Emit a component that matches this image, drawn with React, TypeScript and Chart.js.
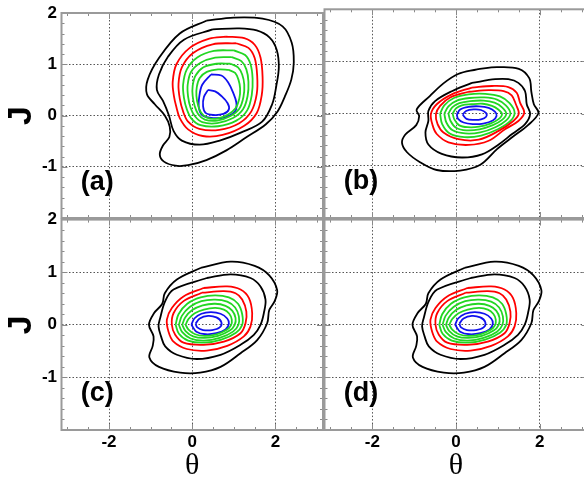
import React, { useEffect, useRef } from 'react';
import { Chart, registerables } from 'chart.js';

Chart.register(...registerables);

type P = [number, number][];

// ---------- axis ticks ----------
const thetaGridTicks = [-2, 0, 2];
const jGridTicks = [-2, -1, 0, 1, 2];
const thetaMinorTicks = [-3, -2.5, -2, -1.5, -1, -0.5, 0, 0.5, 1, 1.5, 2, 2.5, 3];
const jMinorTicks = [-1.8, -1.6, -1.4, -1.2, -1, -0.8, -0.6, -0.4, -0.2, 0, 0.2, 0.4, 0.6, 0.8, 1, 1.2, 1.4, 1.6, 1.8];
const thetaMajorTicks = [-2, 0, 2];
const jMajorTicks = [-1, 0, 1];
const panelLetters = ['(a)', '(b)', '(c)', '(d)'];

// ---------- panel (a) contours [theta, J] ----------
const aBlack1: P = [[0.34, 1.85], [1.0, 1.91], [1.69, 1.89], [2.17, 1.74], [2.39, 1.42], [2.44, 1.04], [2.38, 0.7], [2.22, 0.36], [2.05, 0.08], [1.77, -0.17], [1.29, -0.43], [0.82, -0.68], [0.34, -0.87], [-0.1, -0.97], [-0.4, -0.98], [-0.68, -0.9], [-0.78, -0.76], [-0.7, -0.58], [-0.55, -0.42], [-0.54, -0.22], [-0.66, 0.0], [-0.9, 0.22], [-1.09, 0.42], [-1.07, 0.7], [-0.8, 1.12], [-0.3, 1.6], [0.34, 1.85]];
const aBlack2: P = [[0.49, 1.68], [1.13, 1.7], [1.55, 1.66], [1.86, 1.52], [2.03, 1.28], [2.08, 0.94], [2.02, 0.58], [1.92, 0.22], [1.68, -0.12], [1.18, -0.33], [0.66, -0.49], [0.18, -0.57], [-0.25, -0.49], [-0.45, -0.3], [-0.56, 0.0], [-0.7, 0.28], [-0.85, 0.5], [-0.8, 0.8], [-0.58, 1.15], [-0.2, 1.48], [0.49, 1.68]];
const aRed1: P = [[0.81, 1.54], [1.25, 1.51], [1.5, 1.38], [1.64, 1.13], [1.69, 0.75], [1.67, 0.4], [1.55, 0.05], [1.25, -0.2], [0.73, -0.38], [0.25, -0.4], [-0.1, -0.27], [-0.3, -0.05], [-0.38, 0.16], [-0.44, 0.38], [-0.47, 0.65], [-0.38, 1.0], [-0.06, 1.32], [0.41, 1.5], [0.81, 1.54]];
const aRed2: P = [[1.05, 1.41], [1.35, 1.32], [1.5, 1.12], [1.56, 0.78], [1.55, 0.42], [1.42, 0.08], [1.13, -0.15], [0.65, -0.28], [0.17, -0.26], [-0.1, -0.12], [-0.22, 0.08], [-0.3, 0.33], [-0.33, 0.62], [-0.25, 0.94], [0.02, 1.22], [0.49, 1.39], [1.05, 1.41]];
const aGreen1: P = [[1.0, 1.27], [1.27, 1.18], [1.4, 1.0], [1.45, 0.72], [1.43, 0.4], [1.32, 0.1], [1.06, -0.1], [0.62, -0.21], [0.2, -0.19], [-0.02, -0.06], [-0.13, 0.12], [-0.2, 0.35], [-0.22, 0.6], [-0.13, 0.9], [0.12, 1.13], [0.52, 1.26], [1.0, 1.27]];
const aGreen2: P = [[0.95, 1.14], [1.18, 1.06], [1.3, 0.9], [1.35, 0.66], [1.33, 0.38], [1.22, 0.12], [0.98, -0.05], [0.6, -0.15], [0.24, -0.13], [0.06, -0.01], [-0.04, 0.15], [-0.1, 0.37], [-0.11, 0.6], [-0.03, 0.85], [0.2, 1.03], [0.55, 1.13], [0.95, 1.14]];
const aGreen3: P = [[0.92, 1.01], [1.1, 0.94], [1.2, 0.8], [1.25, 0.6], [1.23, 0.36], [1.13, 0.13], [0.92, -0.01], [0.6, -0.1], [0.3, -0.08], [0.14, 0.03], [0.06, 0.18], [0.01, 0.38], [0.01, 0.58], [0.08, 0.78], [0.27, 0.94], [0.58, 1.01], [0.92, 1.01]];
const aGreen4: P = [[0.88, 0.89], [1.03, 0.83], [1.11, 0.7], [1.15, 0.53], [1.13, 0.33], [1.04, 0.14], [0.86, 0.02], [0.6, -0.06], [0.35, -0.04], [0.21, 0.06], [0.14, 0.2], [0.1, 0.38], [0.11, 0.56], [0.18, 0.73], [0.35, 0.85], [0.62, 0.9], [0.88, 0.89]];
const aBlue1: P = [[0.45, 0.8], [0.7, 0.78], [0.86, 0.65], [0.98, 0.45], [1.06, 0.25], [1.03, 0.08], [0.8, -0.03], [0.5, -0.05], [0.25, 0.0], [0.16, 0.15], [0.17, 0.38], [0.24, 0.6], [0.45, 0.8]];
const aBlue2: P = [[0.38, 0.5], [0.55, 0.47], [0.7, 0.38], [0.85, 0.24], [0.88, 0.12], [0.75, 0.03], [0.5, 0.01], [0.32, 0.05], [0.26, 0.18], [0.28, 0.36], [0.38, 0.5]];

// ---------- panel (b) contours ----------
const bBlack1: P = [[0.5, 0.85], [0.98, 0.89], [1.5, 0.86], [1.75, 0.68], [1.8, 0.42], [1.86, 0.18], [1.97, 0.01], [1.72, -0.22], [1.38, -0.43], [0.98, -0.68], [0.58, -0.98], [0.1, -1.09], [-0.46, -1.08], [-0.86, -0.93], [-1.17, -0.74], [-1.29, -0.56], [-1.21, -0.4], [-0.95, -0.22], [-0.88, -0.05], [-0.94, 0.08], [-0.62, 0.34], [-0.3, 0.58], [0.05, 0.76], [0.5, 0.85]];
const bBlack2: P = [[0.38, 0.59], [0.94, 0.66], [1.25, 0.66], [1.49, 0.59], [1.65, 0.43], [1.69, 0.18], [1.77, -0.01], [1.65, -0.2], [1.34, -0.39], [1.02, -0.59], [0.62, -0.78], [0.14, -0.84], [-0.34, -0.77], [-0.66, -0.59], [-0.73, -0.36], [-0.66, -0.14], [-0.66, 0.05], [-0.5, 0.24], [-0.1, 0.43], [0.38, 0.59]];
const bRed1: P = [[0.38, 0.5], [0.86, 0.53], [1.25, 0.51], [1.45, 0.4], [1.53, 0.21], [1.63, 0.02], [1.49, -0.14], [1.17, -0.3], [0.78, -0.52], [0.3, -0.6], [-0.18, -0.55], [-0.46, -0.39], [-0.56, -0.22], [-0.6, -0.01], [-0.46, 0.18], [-0.1, 0.37], [0.38, 0.5]];
const bRed2: P = [[0.3, 0.42], [0.78, 0.45], [1.14, 0.43], [1.33, 0.35], [1.43, 0.18], [1.5, 0.0], [1.37, -0.14], [1.02, -0.33], [0.54, -0.5], [0.06, -0.49], [-0.3, -0.36], [-0.44, -0.2], [-0.48, -0.01], [-0.38, 0.15], [-0.14, 0.31], [0.3, 0.42]];
const bGreen1: P = [[-0.38, 0.0], [-0.28, 0.16], [-0.05, 0.3], [0.3, 0.37], [0.7, 0.38], [1.05, 0.33], [1.28, 0.2], [1.4, 0.02], [1.3, -0.14], [1.0, -0.3], [0.6, -0.42], [0.2, -0.45], [-0.15, -0.38], [-0.33, -0.2], [-0.38, 0.0]];
const bGreen2: P = [[-0.28, 0.0], [-0.18, 0.14], [0.02, 0.25], [0.32, 0.3], [0.68, 0.31], [0.98, 0.27], [1.19, 0.16], [1.3, 0.01], [1.2, -0.13], [0.94, -0.26], [0.58, -0.36], [0.22, -0.38], [-0.08, -0.32], [-0.23, -0.17], [-0.28, 0.0]];
const bGreen3: P = [[-0.18, 0.0], [-0.09, 0.12], [0.08, 0.2], [0.34, 0.24], [0.66, 0.25], [0.92, 0.21], [1.1, 0.12], [1.2, 0.0], [1.1, -0.12], [0.88, -0.22], [0.56, -0.3], [0.25, -0.32], [0.0, -0.27], [-0.13, -0.14], [-0.18, 0.0]];
const bGreen4: P = [[-0.08, 0.0], [0.0, 0.1], [0.14, 0.16], [0.36, 0.18], [0.64, 0.19], [0.86, 0.15], [1.01, 0.08], [1.1, -0.01], [1.01, -0.11], [0.82, -0.19], [0.55, -0.25], [0.28, -0.26], [0.07, -0.22], [-0.04, -0.11], [-0.08, 0.0]];
const bBlue1: P = [[0.02, -0.02], [0.1, 0.08], [0.3, 0.13], [0.55, 0.14], [0.78, 0.11], [0.93, 0.04], [0.97, -0.04], [0.88, -0.13], [0.65, -0.19], [0.4, -0.2], [0.18, -0.17], [0.05, -0.1], [0.02, -0.02]];
const bBlue2: P = [[0.16, -0.02], [0.24, 0.05], [0.42, 0.08], [0.6, 0.07], [0.72, 0.01], [0.72, -0.06], [0.6, -0.11], [0.42, -0.12], [0.25, -0.1], [0.16, -0.02]];

// ---------- panels (c) and (d) contours ----------
const cBlack1: P = [[0.2, 1.08], [0.92, 1.2], [1.5, 1.12], [1.85, 0.94], [2.04, 0.66], [1.98, 0.45], [1.85, 0.28], [1.8, 0.03], [1.56, -0.29], [1.16, -0.54], [0.68, -0.8], [0.19, -0.91], [-0.29, -0.91], [-0.8, -0.8], [-1.03, -0.62], [-0.95, -0.4], [-0.93, -0.22], [-1.04, 0.0], [-0.92, 0.22], [-0.72, 0.4], [-0.66, 0.6], [-0.37, 0.86], [0.2, 1.08]];
const cBlack2: P = [[0.35, 0.89], [0.92, 0.96], [1.4, 0.89], [1.64, 0.73], [1.76, 0.48], [1.72, 0.22], [1.64, 0.0], [1.48, -0.19], [1.16, -0.38], [0.68, -0.57], [0.11, -0.65], [-0.37, -0.57], [-0.65, -0.41], [-0.75, -0.22], [-0.81, -0.03], [-0.77, 0.13], [-0.65, 0.45], [-0.45, 0.67], [0.35, 0.89]];
const cRed1: P = [[0.27, 0.7], [0.84, 0.73], [1.16, 0.67], [1.36, 0.51], [1.44, 0.22], [1.4, -0.03], [1.24, -0.22], [0.84, -0.4], [0.35, -0.49], [-0.13, -0.46], [-0.45, -0.32], [-0.57, -0.13], [-0.61, 0.1], [-0.49, 0.32], [-0.21, 0.54], [0.27, 0.7]];
const cRed2: P = [[0.23, 0.61], [0.76, 0.64], [1.04, 0.6], [1.2, 0.48], [1.3, 0.25], [1.28, 0.03], [1.16, -0.16], [0.76, -0.32], [0.27, -0.38], [-0.21, -0.34], [-0.41, -0.19], [-0.49, 0.0], [-0.45, 0.22], [-0.21, 0.45], [0.23, 0.61]];
const cGreen1: P = [[-0.4, 0.0], [-0.33, 0.2], [-0.12, 0.4], [0.2, 0.52], [0.55, 0.56], [0.88, 0.52], [1.1, 0.4], [1.2, 0.2], [1.2, 0.0], [1.05, -0.15], [0.7, -0.28], [0.28, -0.34], [-0.1, -0.3], [-0.32, -0.17], [-0.4, 0.0]];
const cGreen2: P = [[-0.32, 0.0], [-0.25, 0.17], [-0.06, 0.34], [0.22, 0.45], [0.55, 0.48], [0.84, 0.44], [1.03, 0.33], [1.12, 0.16], [1.11, 0.0], [0.98, -0.13], [0.66, -0.25], [0.28, -0.3], [-0.04, -0.26], [-0.24, -0.14], [-0.32, 0.0]];
const cGreen3: P = [[-0.24, 0.0], [-0.17, 0.14], [0.0, 0.28], [0.25, 0.37], [0.55, 0.4], [0.8, 0.36], [0.96, 0.27], [1.04, 0.13], [1.02, 0.0], [0.9, -0.11], [0.62, -0.21], [0.29, -0.25], [0.02, -0.22], [-0.16, -0.12], [-0.24, 0.0]];
const cGreen4: P = [[-0.16, 0.0], [-0.09, 0.11], [0.06, 0.22], [0.28, 0.29], [0.55, 0.32], [0.76, 0.29], [0.89, 0.21], [0.95, 0.1], [0.93, -0.01], [0.82, -0.1], [0.58, -0.18], [0.3, -0.21], [0.07, -0.18], [-0.09, -0.09], [-0.16, 0.0]];
const cBlue1: P = [[-0.02, 0.0], [0.05, 0.12], [0.22, 0.21], [0.45, 0.24], [0.68, 0.21], [0.84, 0.12], [0.88, 0.02], [0.8, -0.09], [0.58, -0.16], [0.32, -0.18], [0.1, -0.13], [-0.02, 0.0]];
const cBlue2: P = [[0.08, 0.02], [0.18, 0.12], [0.38, 0.17], [0.58, 0.14], [0.7, 0.05], [0.66, -0.05], [0.48, -0.1], [0.26, -0.1], [0.12, -0.05], [0.08, 0.02]];

const panelCurves: P[][] = [
  [aBlack1, aBlack2, aRed1, aRed2, aGreen1, aGreen2, aGreen3, aGreen4, aBlue1, aBlue2],
  [bBlack1, bBlack2, bRed1, bRed2, bGreen1, bGreen2, bGreen3, bGreen4, bBlue1, bBlue2],
  [cBlack1, cBlack2, cRed1, cRed2, cGreen1, cGreen2, cGreen3, cGreen4, cBlue1, cBlue2],
  [cBlack1, cBlack2, cRed1, cRed2, cGreen1, cGreen2, cGreen3, cGreen4, cBlue1, cBlue2],
];

// ---------- styling / layout ----------
const contourColors = ['#000000', '#000000', '#ff0000', '#ff0000', '#22d622', '#22d622', '#22d622', '#22d622', '#1010ee', '#1010ee'];
const CW = 600;
const CH = 483;
const layoutBoxes = [
  { left: 61.5, top: 9.3, right: 323, bottom: 218, yLabels: true, xLabels: false },
  { left: 324.5, top: 9.3, right: 587.5, bottom: 218, yLabels: false, xLabels: false },
  { left: 61.5, top: 219.6, right: 323, bottom: 430, yLabels: true, xLabels: true },
  { left: 324.5, top: 219.6, right: 587.5, bottom: 430, yLabels: false, xLabels: true },
];
const letterAnchor = [-2.68, -1.3];

const decorPlugin = {
  id: 'panelDecor',
  afterDatasetsDraw(chart: any, _args: any, opts: any) {
    const { ctx, chartArea: a, scales } = chart;
    const x = scales.x;
    const y = scales.y;
    ctx.save();
    ctx.strokeStyle = '#8a8a8a';
    ctx.lineWidth = 1;
    ctx.beginPath();
    thetaMinorTicks.forEach((v) => {
      const px = Math.round(x.getPixelForValue(v)) + 0.5;
      if (px < a.left + 1 || px > a.right - 1) return;
      const len = thetaMajorTicks.includes(v) ? 6 : 3;
      ctx.moveTo(px, a.top);
      ctx.lineTo(px, a.top + len);
      ctx.moveTo(px, a.bottom);
      ctx.lineTo(px, a.bottom - len);
    });
    jMinorTicks.forEach((v) => {
      const py = Math.round(y.getPixelForValue(v)) + 0.5;
      const len = jMajorTicks.includes(v) ? 6 : 3;
      ctx.moveTo(a.left, py);
      ctx.lineTo(a.left + len, py);
      ctx.moveTo(a.right, py);
      ctx.lineTo(a.right - len, py);
    });
    ctx.stroke();
    ctx.strokeStyle = '#9a9a9a';
    ctx.lineWidth = 2;
    ctx.strokeRect(a.left, a.top, a.right - a.left, a.bottom - a.top);
    ctx.fillStyle = '#000';
    ctx.font = 'bold 27px "Liberation Sans", Arial, sans-serif';
    ctx.textAlign = 'left';
    ctx.textBaseline = 'middle';
    ctx.fillText(opts.letter, x.getPixelForValue(letterAnchor[0]), y.getPixelForValue(letterAnchor[1]));
    ctx.restore();
  },
};

function makeChart(canvas: HTMLCanvasElement, idx: number) {
  const box = layoutBoxes[idx];
  const yAxisW = box.yLabels ? box.left : 0;
  const xAxisH = box.xLabels ? CH - box.bottom : 0;
  const tickFont = { family: '"Liberation Sans", Arial, sans-serif', size: 17, weight: 'bold' as const, lineHeight: 1 };
  return new Chart(canvas, {
    type: 'scatter',
    data: {
      datasets: panelCurves[idx].map((curve, i) => ({
        data: curve.map(([t, j]) => ({ x: t, y: j })),
        showLine: true,
        borderColor: contourColors[i],
        backgroundColor: contourColors[i],
        borderWidth: 1.8,
        pointRadius: 0,
        tension: 0.35,
        fill: false,
      })),
    },
    options: {
      animation: false,
      responsive: false,
      events: [],
      layout: {
        padding: {
          left: box.yLabels ? 0 : box.left,
          top: box.top,
          right: CW - box.right,
          bottom: box.xLabels ? 0 : CH - box.bottom,
        },
      },
      plugins: {
        legend: { display: false },
        tooltip: { enabled: false },
        panelDecor: { letter: panelLetters[idx] },
      } as any,
      scales: {
        x: {
          type: 'linear',
          min: -Math.PI,
          max: Math.PI,
          afterBuildTicks: (s: any) => {
            s.ticks = thetaGridTicks.map((v) => ({ value: v }));
          },
          afterFit: (s: any) => {
            s.height = xAxisH;
          },
          grid: { color: '#555555', lineWidth: 1, drawTicks: false },
          border: { display: false, dash: [1.5, 2] },
          ticks: { display: box.xLabels, padding: 3.5, color: '#000', font: tickFont, callback: (v: any) => String(v) },
          title: {
            display: box.xLabels,
            text: 'θ',
            color: '#000',
            font: { family: '"Liberation Serif", "Times New Roman", serif', size: 30, lineHeight: 1.133 },
            padding: 0,
          },
        },
        y: {
          type: 'linear',
          min: -2,
          max: 2,
          afterBuildTicks: (s: any) => {
            s.ticks = jGridTicks.map((v) => ({ value: v }));
          },
          afterFit: (s: any) => {
            s.width = yAxisW;
          },
          grid: { color: '#555555', lineWidth: 1, drawTicks: false },
          border: { display: false, dash: [1.5, 2] },
          ticks: {
            display: box.yLabels,
            padding: 4.5,
            color: '#000',
            font: tickFont,
            callback: (v: any) => (v === -2 ? '' : String(v)),
          },
          title: {
            display: box.yLabels,
            text: 'J',
            color: '#000',
            font: { family: '"Liberation Sans", Arial, sans-serif', size: 34, weight: 'bold', lineHeight: 1.2 },
            padding: { top: 1, bottom: 0 },
          },
        },
      },
    } as any,
    plugins: [decorPlugin as any],
  });
}

export default function App() {
  const r0 = useRef<HTMLCanvasElement>(null);
  const r1 = useRef<HTMLCanvasElement>(null);
  const r2 = useRef<HTMLCanvasElement>(null);
  const r3 = useRef<HTMLCanvasElement>(null);

  useEffect(() => {
    document.body.style.margin = '0';
    document.body.style.overflow = 'hidden';
    const refs = [r0, r1, r2, r3];
    const charts = refs.map((r, i) => makeChart(r.current as HTMLCanvasElement, i));
    return () => charts.forEach((c) => c.destroy());
  }, []);

  const cs: React.CSSProperties = { position: 'absolute', left: 0, top: 0, width: CW, height: CH };
  return (
    <div style={{ position: 'relative', width: 584, height: 483, overflow: 'hidden', background: '#fff' }}>
      <canvas ref={r0} width={CW} height={CH} style={cs} />
      <canvas ref={r1} width={CW} height={CH} style={cs} />
      <canvas ref={r2} width={CW} height={CH} style={cs} />
      <canvas ref={r3} width={CW} height={CH} style={cs} />
    </div>
  );
}
